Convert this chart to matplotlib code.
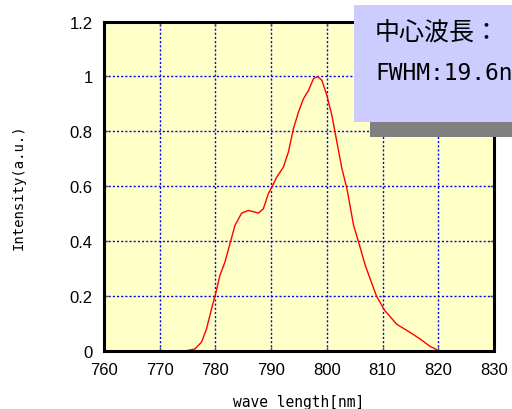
import matplotlib
matplotlib.use("Agg")
import matplotlib.pyplot as plt
import matplotlib.patches as patches

# spectrum
wavelength = [774.5, 776.3, 777.5, 778.4, 779.3, 780.1, 780.8, 781.7, 782.6,
              783.5, 784.7, 785.9, 787.1, 787.7, 788.6, 789.5, 790.2, 791.0,
              792.2, 793.1, 794.0, 794.9, 795.8, 796.7, 797.6, 798.3, 799.1,
              800.0, 800.9, 801.8, 802.7, 803.6, 804.8, 805.7, 806.9, 808.9,
              810.4, 812.5, 814.9, 816.7, 818.5, 819.7]
intensity = [0.0, 0.007, 0.032, 0.08, 0.153, 0.214, 0.275, 0.323, 0.39,
             0.457, 0.502, 0.512, 0.506, 0.502, 0.518, 0.573, 0.60, 0.633,
             0.670, 0.725, 0.81, 0.87, 0.919, 0.949, 0.992, 1.0, 0.986,
             0.931, 0.858, 0.761, 0.664, 0.591, 0.457, 0.396, 0.311, 0.20,
             0.147, 0.098, 0.068, 0.044, 0.017, 0.005]

x_ticks = [760, 770, 780, 790, 800, 810, 820, 830]
y_ticks = [0, 0.2, 0.4, 0.6, 0.8, 1.0, 1.2]
y_tick_labels = ["0", "0.2", "0.4", "0.6", "0.8", "1", "1.2"]

box_line1 = "中心波長："
box_line2 = "FWHM:19.6n"

fig = plt.figure(figsize=(5.12, 4.10), dpi=100)
ax = fig.add_axes([0.203, 0.1415, 0.762, 0.8035])
ax.set_facecolor("#FFFFC8")

ax.plot(wavelength, intensity, color="red", lw=1.0)

ax.set_xlim(760, 830)
ax.set_ylim(0, 1.2)
ax.set_xticks(x_ticks)
ax.set_yticks(y_ticks)
ax.set_yticklabels(y_tick_labels)
ax.grid(True, color="#0000FF", linestyle=(0, (1.5, 1.5)), lw=1.0)
ax.tick_params(direction="in", length=3, width=1, color="#555555",
               labelsize=12, pad=8, top=True, right=True)
for lab in ax.get_xticklabels() + ax.get_yticklabels():
    lab.set_family("Liberation Sans")
for s in ax.spines.values():
    s.set_linewidth(2.2)
    s.set_color("black")

ax.set_xlabel("wave length[nm]", family="DejaVu Sans Mono", fontsize=10.5, labelpad=12)
ax.set_ylabel("Intensity(a.u.)", family="DejaVu Sans Mono", fontsize=10, labelpad=32)

# annotation box with shadow, partly running off the figure
shadow = patches.Rectangle((370 / 512, 272 / 410), 0.3, 116 / 410,
                           transform=fig.transFigure, facecolor="#808080",
                           edgecolor="none", zorder=5)
box = patches.Rectangle((354 / 512, 287 / 410), 0.35, 117 / 410,
                        transform=fig.transFigure, facecolor="#CCCCFF",
                        edgecolor="none", zorder=6)
fig.patches.extend([shadow, box])
fig.text(375 / 512, 376 / 410, box_line1, family=["Noto Sans CJK JP", "DejaVu Sans"],
         fontsize=18, va="center", ha="left", zorder=7)
fig.text(375 / 512, 336 / 410, box_line2, family="DejaVu Sans Mono",
         fontsize=16.5, va="center", ha="left", zorder=7)

fig.savefig("out.png", dpi=100, facecolor="white")
